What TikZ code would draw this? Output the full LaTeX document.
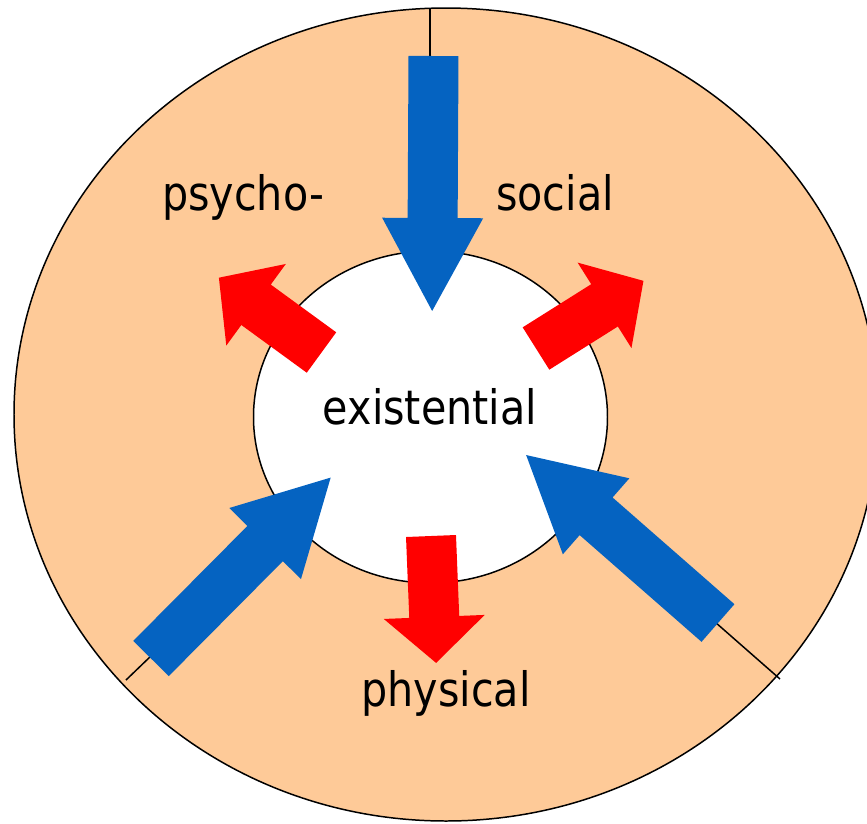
\documentclass[tikz,border=0pt]{standalone}
\definecolor{ringpeach}{HTML}{FECA98}
\definecolor{inblue}{HTML}{0563C1}
\definecolor{outred}{HTML}{FF0000}
\usepackage{fontspec}
\newfontfamily\labelfont{DejaVu Sans}[FakeStretch=0.87]
\usetikzlibrary{calc, positioning}
% block arrow: colour, tail, angle, length, head length
\newcommand{\blockarrow}[5]{%
  \fill[#1, shift={#2}, rotate=#3] (0,-25) -- (#4-#5,-25) -- (#4-#5,-50.5)
    -- (#4,0) -- (#4-#5,50.5) -- (#4-#5,25) -- (0,25) -- cycle;}

\begin{document}
\begin{tikzpicture}[x=0.02cm, y=-0.02cm,
    lbl/.style={font=\labelfont\fontsize{27}{31}\selectfont, anchor=base, inner sep=0pt}]
      \useasboundingbox (0,0) rectangle (867,823);
      \clip (0,0) rectangle (867,823);
      \coordinate (c) at (446,414.5);
      \filldraw[fill=ringpeach, draw=black, line width=0.85pt] (c) ellipse (432 and 406.5);
      % dividing lines, partly hidden by the blue arrows
      \coordinate (top) at (430,8);
      \coordinate (lowleft) at (126,680);
      \coordinate (lowright) at (780,679);
      \draw[line width=0.85pt] (top) -- (430,60);
      \draw[line width=0.85pt] (lowleft) -- (152,655);
      \draw[line width=0.85pt] (lowright) -- (715,622);
      \filldraw[fill=white, draw=black, line width=0.85pt] (430.5,417) ellipse (177 and 166);
      % blue arrows in, red arrows out
      \foreach \tail/\ang in {{(433.5,56)}/-90.3, {(151,658.5)}/45.2, {(718,623)}/138.8}
        \blockarrow{inblue}{\tail}{\ang}{255}{93};
      \foreach \tail/\ang in {{(321.5,352.5)}/143.9, {(536,348.5)}/32.2, {(431,536)}/-87.7}
        \blockarrow{outred}{\tail}{\ang}{127}{46};
      \node[lbl] (psycho) at (243,210) {psycho-};
      \node[lbl] (social) at (555,210) {social};
      \node[lbl] (exist) at (430,424) {existential};
      \node[lbl] (phys) at (446,706) {physical};
   \end{tikzpicture}
\end{document}
